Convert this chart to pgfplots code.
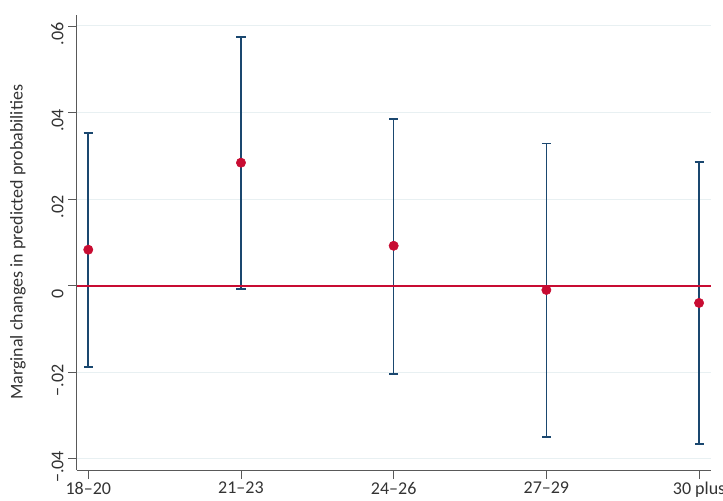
\documentclass[border=0pt]{standalone}
\usepackage{pgfplots}
\pgfplotsset{compat=1.18}
\usepackage{pgfplotstable}
\usepackage{fontspec}
\setmainfont{Carlito}
\definecolor{navyb}{RGB}{26,71,111}
\definecolor{redp}{RGB}{200,12,50}
\definecolor{gridc}{RGB}{232,240,242}
\pgfplotstableread{
x y lo hi
0 0.0083 -0.0188 0.0353
1 0.0284 -0.0008 0.0575
2 0.0092 -0.0204 0.0385
3 -0.0010 -0.0350 0.0328
4 -0.0040 -0.0366 0.0286
}\data
\pgfplotstableread{
x y
-0.076 0
4.076 0
}\zeroline
\begin{document}
\begin{tikzpicture}
\useasboundingbox (0,0) rectangle (542.25pt,375pt);
\begin{axis}[
  at={(57.5pt,22.5pt)}, anchor=south west,
  scale only axis, width=475.5pt, height=341.5pt,
  xmin=-0.076, xmax=4.076,
  ymin=-0.0426, ymax=0.0626,
  axis x line=bottom, axis y line=left,
  axis line style={black!65, line width=0.6pt, -},
  xtick={0,1,2,3,4},
  xticklabels={18–20,21–23,24–26,27–29,30 plus},
  ytick={-0.04,-0.02,0,0.02,0.04,0.06},
  yticklabels={−.04,−.02,0,.02,.04,.06},
  scaled y ticks=false,
  tick align=outside,
  major tick length=6.4pt,
  tick style={black!65, line width=0.6pt},
  ymajorgrids, grid style={gridc, line width=0.8pt},
  /pgf/number format/assume math mode=true,
  tick label style={font=\fontsize{13.5}{15}\selectfont, black!80},
  yticklabel style={rotate=90, anchor=south, xshift=-6pt},
  xticklabel style={yshift=1pt},
  ylabel={Marginal changes in predicted probabilities},
  ylabel style={font=\fontsize{13.5}{15}\selectfont, black!80, at={(-44pt,0.5)}, anchor=center},
  clip=false,
]
\addplot[navyb, only marks, mark=none, forget plot,
  error bars/.cd, y dir=both, y explicit,
  error bar style={navyb, line width=1.2pt},
  error mark options={navyb, line width=1.2pt, mark size=3.4pt, rotate=90}]
  table[x=x, y=y, y error plus expr=\thisrow{hi}-\thisrow{y}, y error minus expr=\thisrow{y}-\thisrow{lo}] {\data};
\addplot[draw=redp, line width=1.5pt, mark=none, forget plot] table[x=x, y=y] {\zeroline};
\addplot[only marks, mark=*, mark size=3.5pt, mark options={fill=redp, draw=redp}, forget plot] table[x=x, y=y] {\data};
\end{axis}
\end{tikzpicture}
\end{document}
